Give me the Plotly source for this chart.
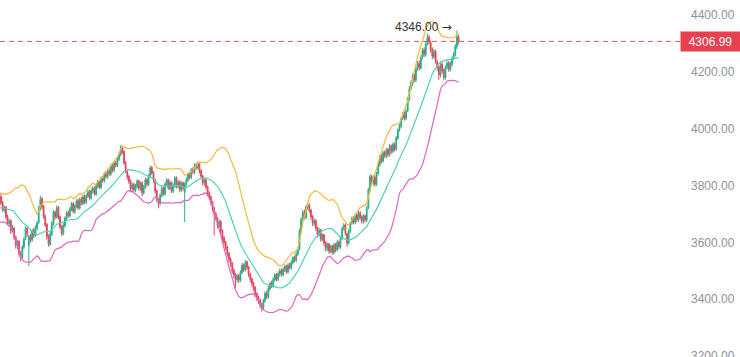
import plotly.graph_objects as go
import pandas as pd

# ---------------- data ----------------
lead_in = 20  # candles before the visible window (needed for the 20-period bands)

opens = [
    3700, 3714, 3733, 3746, 3728, 3703, 3690, 3670, 3693, 3716,
    3743, 3754, 3735, 3711, 3686, 3695, 3720, 3747, 3729, 3750,
    3762, 3740, 3713, 3724, 3692, 3666, 3677, 3642, 3650, 3620,
    3588, 3603, 3562, 3546, 3583, 3614, 3650, 3590, 3622, 3608,
    3642, 3623, 3650, 3670, 3718, 3754, 3726, 3692, 3664, 3622,
    3593, 3628, 3666, 3707, 3688, 3724, 3690, 3657, 3630, 3658,
    3683, 3704, 3693, 3716, 3737, 3708, 3726, 3747, 3720, 3752,
    3736, 3762, 3740, 3763, 3780, 3756, 3780, 3792, 3770, 3796,
    3814, 3793, 3827, 3816, 3842, 3830, 3852, 3840, 3870, 3853,
    3880, 3870, 3893, 3908, 3934, 3920, 3882, 3850, 3832, 3817,
    3788, 3804, 3783, 3796, 3817, 3788, 3810, 3773, 3793, 3822,
    3803, 3833, 3864, 3847, 3820, 3782, 3750, 3736, 3763, 3792,
    3770, 3803, 3820, 3790, 3812, 3780, 3798, 3828, 3796, 3814,
    3783, 3810, 3775, 3803, 3818, 3840, 3828, 3857, 3846, 3872,
    3863, 3880, 3852, 3834, 3808, 3820, 3797, 3774, 3760, 3742,
    3720, 3702, 3687, 3658, 3674, 3642, 3617, 3602, 3584, 3562,
    3542, 3527, 3502, 3487, 3468, 3484, 3466, 3493, 3522, 3503,
    3532, 3514, 3490, 3472, 3457, 3442, 3420, 3407, 3397, 3382,
    3370, 3393, 3422, 3408, 3436, 3457, 3446, 3468, 3487, 3470,
    3488, 3502, 3486, 3503, 3517, 3496, 3522, 3510, 3528, 3547,
    3536, 3558, 3577, 3638, 3682, 3707, 3688, 3723, 3732, 3714,
    3692, 3666, 3677, 3652, 3626, 3644, 3610, 3627, 3600, 3578,
    3594, 3568, 3587, 3563, 3592, 3573, 3602, 3583, 3613, 3650,
    3662, 3630, 3596, 3638, 3670, 3687, 3670, 3697, 3678, 3704,
    3690, 3673, 3694, 3678, 3722, 3783, 3832, 3810, 3830, 3803,
    3842, 3873, 3902, 3886, 3917, 3903, 3927, 3908, 3940, 3920,
    3947, 3928, 3966, 3997, 4008, 4037, 4052, 4036, 4064, 4103,
    4142, 4158, 4187, 4170, 4212, 4230, 4213, 4252, 4277, 4260,
    4300, 4322, 4303, 4280, 4253, 4272, 4236, 4217, 4188, 4227,
    4207, 4178, 4217, 4232, 4208, 4226, 4247, 4260, 4288, 4322,
]

highs = [
    3720, 3742, 3758, 3752, 3734, 3710, 3696, 3702, 3725, 3748,
    3765, 3760, 3740, 3716, 3705, 3728, 3752, 3755, 3760, 3768,
    3770, 3746, 3730, 3728, 3698, 3684, 3680, 3662, 3656, 3624,
    3610, 3608, 3570, 3592, 3620, 3656, 3658, 3628, 3630, 3648,
    3650, 3660, 3676, 3728, 3765, 3760, 3732, 3698, 3668, 3628,
    3638, 3675, 3714, 3712, 3730, 3728, 3695, 3662, 3668, 3692,
    3710, 3712, 3725, 3742, 3742, 3735, 3752, 3754, 3758, 3760,
    3768, 3768, 3772, 3786, 3785, 3790, 3798, 3797, 3805, 3820,
    3818, 3832, 3834, 3848, 3850, 3858, 3860, 3875, 3876, 3886,
    3888, 3902, 3918, 3943, 3940, 3924, 3886, 3856, 3838, 3822,
    3810, 3810, 3806, 3822, 3820, 3815, 3814, 3802, 3828, 3826,
    3842, 3870, 3868, 3850, 3824, 3786, 3756, 3772, 3798, 3796,
    3812, 3826, 3824, 3818, 3815, 3808, 3834, 3832, 3820, 3818,
    3815, 3814, 3812, 3828, 3846, 3848, 3862, 3864, 3878, 3880,
    3885, 3884, 3858, 3838, 3826, 3824, 3800, 3780, 3765, 3746,
    3726, 3708, 3690, 3680, 3678, 3646, 3622, 3606, 3588, 3566,
    3548, 3532, 3508, 3492, 3490, 3488, 3502, 3528, 3526, 3538,
    3536, 3518, 3494, 3476, 3462, 3446, 3425, 3412, 3402, 3388,
    3402, 3428, 3430, 3446, 3462, 3465, 3478, 3492, 3492, 3498,
    3508, 3508, 3512, 3522, 3522, 3528, 3528, 3538, 3552, 3554,
    3568, 3582, 3648, 3688, 3714, 3716, 3732, 3741, 3738, 3718,
    3696, 3684, 3682, 3656, 3650, 3648, 3632, 3630, 3604, 3600,
    3598, 3592, 3592, 3598, 3598, 3608, 3606, 3622, 3655, 3668,
    3666, 3634, 3648, 3675, 3692, 3692, 3702, 3702, 3710, 3710,
    3696, 3700, 3698, 3728, 3792, 3840, 3838, 3836, 3834, 3848,
    3882, 3908, 3910, 3922, 3924, 3932, 3932, 3946, 3944, 3952,
    3952, 3975, 4002, 4018, 4042, 4058, 4060, 4070, 4112, 4150,
    4170, 4194, 4196, 4218, 4238, 4240, 4258, 4284, 4286, 4306,
    4335, 4330, 4310, 4286, 4280, 4278, 4242, 4222, 4232, 4234,
    4212, 4222, 4240, 4238, 4236, 4254, 4270, 4298, 4346, 4330,
]

lows = [
    3692, 3706, 3726, 3718, 3695, 3680, 3662, 3664, 3688, 3710,
    3736, 3726, 3702, 3676, 3678, 3690, 3714, 3724, 3722, 3742,
    3730, 3708, 3705, 3682, 3660, 3655, 3630, 3635, 3608, 3578,
    3575, 3550, 3533, 3540, 3576, 3608, 3620, 3516, 3600, 3602,
    3615, 3618, 3642, 3664, 3712, 3716, 3682, 3654, 3610, 3585,
    3588, 3622, 3660, 3680, 3684, 3680, 3646, 3622, 3625, 3652,
    3676, 3686, 3688, 3710, 3702, 3700, 3720, 3714, 3715, 3730,
    3730, 3735, 3734, 3756, 3750, 3750, 3772, 3765, 3764, 3790,
    3787, 3788, 3810, 3810, 3824, 3824, 3834, 3834, 3846, 3848,
    3864, 3865, 3886, 3902, 3910, 3872, 3844, 3820, 3806, 3780,
    3780, 3776, 3776, 3790, 3782, 3782, 3762, 3768, 3788, 3796,
    3798, 3828, 3838, 3810, 3772, 3742, 3720, 3730, 3758, 3764,
    3765, 3798, 3784, 3784, 3774, 3774, 3792, 3790, 3790, 3776,
    3778, 3782, 3672, 3796, 3812, 3822, 3822, 3840, 3840, 3856,
    3856, 3842, 3824, 3800, 3800, 3786, 3762, 3748, 3730, 3708,
    3625, 3676, 3650, 3650, 3630, 3605, 3588, 3572, 3550, 3530,
    3514, 3490, 3474, 3440, 3460, 3458, 3460, 3488, 3496, 3498,
    3504, 3478, 3460, 3444, 3430, 3408, 3394, 3384, 3368, 3357,
    3362, 3388, 3400, 3402, 3430, 3440, 3440, 3462, 3464, 3464,
    3480, 3480, 3480, 3496, 3490, 3490, 3504, 3504, 3522, 3530,
    3530, 3552, 3572, 3632, 3676, 3680, 3682, 3715, 3704, 3680,
    3658, 3658, 3640, 3618, 3620, 3602, 3604, 3588, 3568, 3570,
    3560, 3562, 3556, 3558, 3566, 3568, 3576, 3578, 3608, 3642,
    3624, 3585, 3592, 3632, 3662, 3664, 3664, 3672, 3672, 3680,
    3666, 3666, 3670, 3672, 3716, 3778, 3802, 3800, 3796, 3798,
    3836, 3866, 3878, 3880, 3896, 3896, 3900, 3902, 3912, 3914,
    3920, 3922, 3960, 3990, 4002, 4030, 4028, 4030, 4058, 4098,
    4135, 4150, 4162, 4164, 4204, 4205, 4208, 4245, 4252, 4254,
    4292, 4296, 4268, 4244, 4246, 4228, 4204, 4172, 4180, 4194,
    4170, 4172, 4208, 4200, 4200, 4218, 4240, 4254, 4280, 4296,
]

closes = [
    3712, 3735, 3748, 3726, 3701, 3688, 3672, 3695, 3718, 3741,
    3756, 3733, 3709, 3684, 3697, 3722, 3745, 3731, 3752, 3760,
    3738, 3715, 3722, 3690, 3668, 3675, 3640, 3652, 3618, 3590,
    3601, 3560, 3548, 3585, 3612, 3648, 3630, 3620, 3610, 3640,
    3625, 3652, 3668, 3720, 3752, 3724, 3690, 3662, 3620, 3595,
    3630, 3668, 3705, 3690, 3722, 3688, 3655, 3632, 3660, 3685,
    3702, 3695, 3718, 3735, 3710, 3728, 3745, 3722, 3750, 3738,
    3760, 3742, 3765, 3778, 3758, 3782, 3790, 3772, 3798, 3812,
    3795, 3825, 3818, 3840, 3832, 3850, 3842, 3868, 3855, 3878,
    3872, 3895, 3910, 3932, 3918, 3880, 3852, 3830, 3815, 3790,
    3802, 3785, 3798, 3815, 3790, 3808, 3775, 3795, 3820, 3805,
    3835, 3862, 3845, 3818, 3780, 3752, 3738, 3765, 3790, 3772,
    3805, 3818, 3792, 3810, 3782, 3800, 3826, 3798, 3812, 3785,
    3808, 3790, 3805, 3820, 3838, 3830, 3855, 3848, 3870, 3865,
    3878, 3850, 3832, 3810, 3818, 3795, 3772, 3758, 3740, 3718,
    3700, 3685, 3660, 3672, 3640, 3615, 3600, 3582, 3560, 3540,
    3525, 3500, 3485, 3470, 3482, 3468, 3495, 3520, 3505, 3530,
    3512, 3488, 3470, 3455, 3440, 3418, 3405, 3395, 3380, 3372,
    3395, 3420, 3410, 3438, 3455, 3448, 3470, 3485, 3472, 3490,
    3500, 3488, 3505, 3515, 3498, 3520, 3512, 3530, 3545, 3538,
    3560, 3575, 3640, 3680, 3705, 3690, 3725, 3730, 3712, 3690,
    3668, 3675, 3650, 3628, 3642, 3612, 3625, 3598, 3580, 3592,
    3570, 3585, 3565, 3590, 3575, 3600, 3585, 3615, 3648, 3660,
    3632, 3598, 3640, 3668, 3685, 3672, 3695, 3680, 3702, 3688,
    3675, 3692, 3680, 3720, 3785, 3830, 3812, 3828, 3805, 3840,
    3875, 3900, 3888, 3915, 3905, 3925, 3910, 3938, 3922, 3945,
    3930, 3968, 3995, 4010, 4035, 4050, 4038, 4062, 4105, 4140,
    4160, 4185, 4172, 4210, 4228, 4215, 4250, 4275, 4262, 4298,
    4320, 4305, 4278, 4255, 4270, 4238, 4215, 4190, 4225, 4205,
    4180, 4215, 4230, 4210, 4228, 4245, 4262, 4290, 4325, 4306.99,
]

y_ticks = [3200, 3400, 3600, 3800, 4000, 4200, 4400]
last_price = closes[-1]
max_high = max(highs)

# ---------------- derived indicator (Bollinger 20, 2) ----------------
idx = list(range(len(closes)))
s = pd.Series(closes, dtype=float)
mid = s.rolling(20).mean()
sd = s.rolling(20).std(ddof=0)
upper = mid + 2 * sd
lower = mid - 2 * sd

# ---------------- styling ----------------
GREEN = "#26b088"
RED = "#e5455a"
C_UP = "#f5b93c"
C_MID = "#52d3b3"
C_LOW = "#e066c6"
TICK_COLOR = "#8e929a"
FONT = "Liberation Sans, Arial, sans-serif"

fig = go.Figure()

fig.add_trace(go.Candlestick(
    x=idx, open=opens, high=highs, low=lows, close=closes,
    increasing=dict(line=dict(color=GREEN, width=1), fillcolor=GREEN),
    decreasing=dict(line=dict(color=RED, width=1), fillcolor=RED),
    whiskerwidth=0, showlegend=False, hoverinfo="skip",
))

band_x = idx[19:]
for series, col in ((upper, C_UP), (mid, C_MID), (lower, C_LOW)):
    fig.add_trace(go.Scatter(
        x=band_x, y=series.iloc[19:].tolist(), mode="lines",
        line=dict(color=col, width=1.2), showlegend=False, hoverinfo="skip",
    ))

# last-price dashed line
fig.add_shape(type="line", xref="paper", x0=0, x1=1, yref="y",
              y0=last_price, y1=last_price,
              line=dict(color="#e0506a", width=1, dash="5px,4px"))

# last-price label
fig.add_annotation(xref="paper", x=1, xanchor="left", yref="y", y=last_price,
                   yanchor="middle", text=f"{last_price:.2f}", showarrow=False,
                   font=dict(color="white", size=12, family=FONT),
                   bgcolor="#e8404f", width=55, height=15, borderpad=2,
                   align="center")

# max-high marker
max_i = highs.index(max_high)
fig.add_annotation(x=max_i, y=max_high, xref="x", yref="y",
                   text=(f"{max_high:.2f} "
                         "<span style='font-family:DejaVu Sans'>→</span>"),
                   showarrow=False,
                   xanchor="right", yanchor="middle", xshift=-3, yshift=3,
                   font=dict(color="#333333", size=12, family=FONT))

n_vis_px_per_bar = 1.64
fig.update_layout(
    width=740, height=357,
    margin=dict(l=0, r=60, t=0, b=0, autoexpand=False),
    paper_bgcolor="white", plot_bgcolor="white",
    font=dict(family=FONT),
    xaxis=dict(range=[lead_in - 0.6, lead_in + 679 / n_vis_px_per_bar],
               showticklabels=False, showgrid=False, zeroline=False,
               rangeslider=dict(visible=False), showline=False, ticks="",
               automargin=False),
    yaxis=dict(side="right", range=[3197, 4452.6],
               tickvals=y_ticks, ticktext=[f"{v:.2f}" for v in y_ticks],
               showgrid=False, zeroline=False, showline=False, ticks="",
               ticklabelstandoff=10, ticklabeloverflow="allow",
               automargin=False,
               tickfont=dict(color=TICK_COLOR, size=12, family=FONT)),
)

fig.write_html("out.html")
